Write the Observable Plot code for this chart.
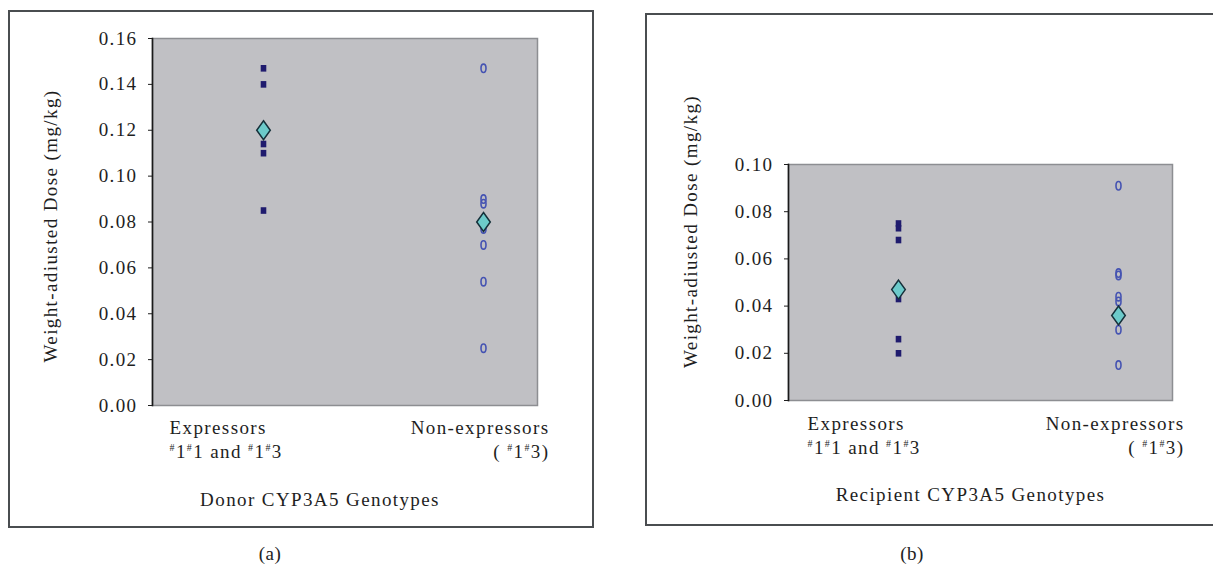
<!DOCTYPE html>
<html>
<head>
<meta charset="utf-8">
<script src="https://cdn.jsdelivr.net/npm/d3@7"></script>
<script src="https://cdn.jsdelivr.net/npm/@observablehq/plot@0.6"></script>
<style>
  body { margin: 0; background: #fff; }
  #page { position: relative; width: 1213px; height: 566px; overflow: hidden; background: #fff; font-family: "Liberation Serif", serif; }
  .frame { position: absolute; box-sizing: border-box; border: 2px solid #4a4d50; }
  .chart { position: absolute; }
  .cap { position: absolute; font-size: 19px; color: #222; transform: translateX(-50%); letter-spacing: 0.5px; }
</style>
</head>
<body>
<div id="page"></div>
<script>
// ---- data ----
const groups = ["Expressors", "Non-expressors"];
const groupLabels = ["Expressors\n#1#1 and #1#3", "Non-expressors\n( #1#3)"];

const donorExpressors = [0.147, 0.140, 0.114, 0.110, 0.085];
const donorNonExpressors = [0.147, 0.090, 0.088, 0.077, 0.070, 0.054, 0.025];
const donorMeans = [0.120, 0.080];
const donorTicks = [0, 0.02, 0.04, 0.06, 0.08, 0.10, 0.12, 0.14, 0.16];

const recipientExpressors = [0.075, 0.073, 0.068, 0.043, 0.026, 0.020];
const recipientNonExpressors = [0.091, 0.054, 0.053, 0.044, 0.042, 0.030, 0.015];
const recipientMeans = [0.047, 0.036];
const recipientTicks = [0, 0.02, 0.04, 0.06, 0.08, 0.10];

const yTitle = "Weight-adiusted Dose (mg/kg)";
const donorTitle = "Donor CYP3A5 Genotypes";
const recipientTitle = "Recipient CYP3A5 Genotypes";
const panelCaptions = ["(a)", "(b)"];

// ---- symbols ----
const squareSym = { draw(ctx) { ctx.rect(-2.8, -3.3, 5.6, 6.6); } };
const ellipseSym = { draw(ctx) {
  const rx = 2.5, ry = 4.2, k = 0.5523;
  ctx.moveTo(0, -ry);
  ctx.bezierCurveTo(k * rx, -ry, rx, -k * ry, rx, 0);
  ctx.bezierCurveTo(rx, k * ry, k * rx, ry, 0, ry);
  ctx.bezierCurveTo(-k * rx, ry, -rx, k * ry, -rx, 0);
  ctx.bezierCurveTo(-rx, -k * ry, -k * rx, -ry, 0, -ry);
  ctx.closePath();
} };
const diamondSym = { draw(ctx) {
  ctx.moveTo(0, -9.5); ctx.lineTo(6.8, 0); ctx.lineTo(0, 9.5); ctx.lineTo(-6.8, 0); ctx.closePath();
} };

function superscriptHashes(svg) {
  const ns = "http://www.w3.org/2000/svg";
  svg.querySelectorAll("tspan").forEach(t => {
    if (!t.textContent.includes("#")) return;
    const parts = t.textContent.split(/(#)/);
    t.textContent = "";
    parts.forEach(p => {
      if (!p) return;
      const s = document.createElementNS(ns, "tspan");
      if (p === "#") {
        s.setAttribute("font-size", "10");
        s.setAttribute("baseline-shift", "7");
      }
      s.textContent = p;
      t.appendChild(s);
    });
  });
}

function panel(cfg) {
  const points = [
    ...cfg.expr.map(v => ({ g: groups[0], v })),
    ...cfg.non.map(v => ({ g: groups[1], v }))
  ];
  const means = groups.map((g, i) => ({ g, v: cfg.means[i] }));
  const labels = groups.map((g, i) => ({ g, label: groupLabels[i] }));
  const svg = Plot.plot({
    width: cfg.width,
    height: cfg.height,
    marginLeft: cfg.ml, marginRight: cfg.mr, marginTop: cfg.mt, marginBottom: cfg.mb,
    x: { type: "point", domain: groups, padding: 0, insetLeft: cfg.insetLeft, insetRight: cfg.insetRight, axis: null },
    y: { domain: [0, cfg.ticks[cfg.ticks.length - 1]], axis: null },
    style: { fontFamily: "'Liberation Serif', serif", fontSize: "19px", letterSpacing: "1.4px", color: "#1e1e1e", background: "transparent", overflow: "visible" },
    marks: [
      Plot.frame({ fill: "#c0c0c4", stroke: "#8d8e92", strokeWidth: 1.5 }),
      Plot.frame({ anchor: "left", stroke: "#1a1a1a", strokeWidth: 1.6 }),
      Plot.axisY({ ticks: cfg.ticks, tickFormat: d3.format(".2f"), tickSize: 4, tickPadding: 11, label: null }),
      Plot.dot(points.filter(d => d.g === groups[0]), { x: "g", y: "v", symbol: squareSym, fill: "#1f1b6e", stroke: "none" }),
      Plot.dot(points.filter(d => d.g === groups[1]), { x: "g", y: "v", symbol: ellipseSym, fill: "none", stroke: "#4553b2", strokeWidth: 1.6 }),
      Plot.dot(means, { x: "g", y: "v", symbol: diamondSym, fill: "#6ccaca", stroke: "#15303a", strokeWidth: 1.5 }),
      Plot.text(labels.slice(0, 1), { x: "g", text: "label", frameAnchor: "bottom", textAnchor: "start", lineAnchor: "middle", lineHeight: 1.26, dx: cfg.leftDx, dy: cfg.labelDy }),
      Plot.text(labels.slice(1), { x: "g", text: "label", frameAnchor: "bottom", textAnchor: "end", lineAnchor: "middle", lineHeight: 1.26, dx: cfg.rightDx, dy: cfg.labelDy }),
      Plot.text([cfg.xTitle], { text: d => d, frameAnchor: "bottom", textAnchor: "middle", dx: cfg.xTitleDx, dy: 100 }),
      Plot.text([yTitle], { text: d => d, frameAnchor: "left", textAnchor: "middle", lineAnchor: "middle", rotate: -90, dx: cfg.yTitleDx, dy: cfg.yTitleDy })
    ]
  });
  superscriptHashes(svg);
  return svg;
}

const page = document.getElementById("page");
function place(cfg, chart) {
  const fr = document.createElement("div");
  fr.className = "frame";
  Object.assign(fr.style, { left: cfg.fx + "px", top: cfg.fy + "px", width: cfg.fw + "px", height: cfg.fh + "px" });
  page.appendChild(fr);
  chart.classList.add("chart");
  chart.style.left = cfg.fx + "px";
  chart.style.top = cfg.fy + "px";
  chart.style.position = "absolute";
  page.appendChild(chart);
}

const left = { fx: 8, fy: 10, fw: 586, fh: 518, width: 585, height: 518, ml: 144, mr: 56, mt: 28, mb: 123,
  insetLeft: 111, insetRight: 54, ticks: donorTicks, expr: donorExpressors, non: donorNonExpressors, means: donorMeans,
  leftDx: -94, rightDx: 66, labelDy: 33, xTitle: donorTitle, xTitleDx: -25, yTitleDx: -102, yTitleDy: 4 };
const right = { fx: 645, fy: 13, fw: 580, fh: 513, width: 570, height: 513, ml: 143, mr: 43, mt: 151, mb: 126,
  insetLeft: 110, insetRight: 54, ticks: recipientTicks, expr: recipientExpressors, non: recipientNonExpressors, means: recipientMeans,
  leftDx: -91, rightDx: 66, labelDy: 34, xTitle: recipientTitle, xTitleDx: -10, yTitleDx: -98, yTitleDy: -51 };

place(left, panel(left));
place(right, panel(right));

[[panelCaptions[0], 270], [panelCaptions[1], 912]].forEach(([t, x]) => {
  const d = document.createElement("div");
  d.className = "cap";
  d.textContent = t;
  d.style.left = x + "px";
  d.style.top = "543px";
  page.appendChild(d);
});
</script>
</body>
</html>
